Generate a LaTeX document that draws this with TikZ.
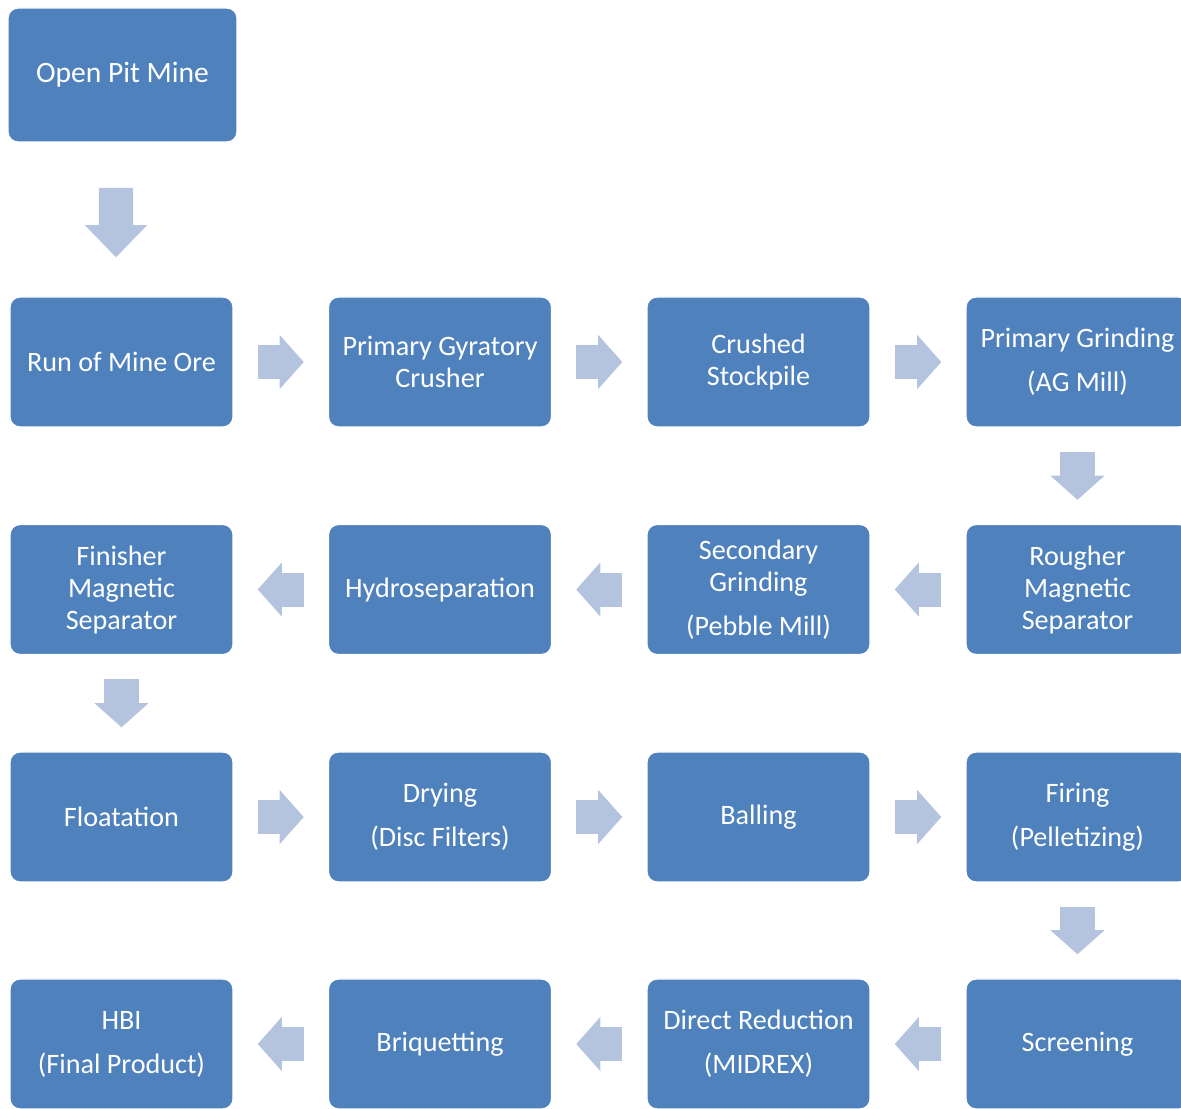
\documentclass[tikz,border=0pt]{standalone}
\usepackage{fontspec}
\setmainfont{Carlito}
\usepackage{tikz}
\usetikzlibrary{arrows.meta}
\definecolor{boxblue}{HTML}{4F81BD}
\definecolor{arrowblue}{HTML}{B4C3DE}

\begin{document}
\begin{tikzpicture}[x=0.01cm, y=-0.01cm,
    stage/.style={rectangle, rounded corners=0.1cm, fill=boxblue, draw=white, line width=0.4pt,
      minimum width=2.23cm, minimum height=1.30cm, text=white, align=center,
      font=\fontsize{8}{9.1}\selectfont},
    flow/.style={draw=arrowblue, line width=0.34cm, shorten <=0.24cm, shorten >=0.24cm,
      -{Triangle[length=0.24cm, width=0.54cm, line width=0pt]}},
    bigflow/.style={flow, line width=0.34cm, shorten <=0.45cm, shorten >=0.39cm,
      -{Triangle[length=0.32cm, width=0.62cm, line width=0pt]}}]
      \clip (0,0) rectangle (1181,1108);
      \node[stage, minimum width=2.29cm, minimum height=1.34cm, font=\fontsize{8.4}{9.6}\selectfont] (mine) at (122.5,75) {Open Pit Mine};
      % first row
      \node[stage] (rom) at (121.5,362) {Run of Mine Ore};
      \node[stage] (crusher) at (440,362) {Primary Gyratory\\Crusher};
      \node[stage] (stock) at (758.5,362) {Crushed\\Stockpile};
      \node[stage] (agmill) at (1077.5,362) {Primary Grinding\\[3.4pt](AG Mill)};
      % second row
      \node[stage] (rougher) at (1077.5,589.5) {Rougher\\Magnetic\\Separator};
      \node[stage] (pebble) at (758.5,589.5) {Secondary\\Grinding\\[3.4pt](Pebble Mill)};
      \node[stage] (hydro) at (440,589.5) {Hydroseparation};
      \node[stage] (finisher) at (121.5,589.5) {Finisher\\Magnetic\\Separator};
      % third row
      \node[stage] (float) at (121.5,817) {Floatation};
      \node[stage] (drying) at (440,817) {Drying\\[3.4pt](Disc Filters)};
      \node[stage] (balling) at (758.5,817) {Balling};
      \node[stage] (firing) at (1077.5,817) {Firing\\[3.4pt](Pelletizing)};
      % fourth row
      \node[stage] (screen) at (1077.5,1044) {Screening};
      \node[stage] (midrex) at (758.5,1044) {Direct Reduction\\[3.4pt](MIDREX)};
      \node[stage] (briq) at (440,1044) {Briquetting};
      \node[stage] (hbi) at (121.5,1044) {HBI\\[3.4pt](Final Product)};
      \draw[bigflow] ([xshift=-0.065cm]mine.south) -- ([xshift=-0.055cm]rom.north);
      \draw[flow] (rom) -- (crusher);
      \draw[flow] (crusher) -- (stock);
      \draw[flow] (stock) -- (agmill);
      \draw[flow] (agmill) -- (rougher);
      \draw[flow] (rougher) -- (pebble);
      \draw[flow] (pebble) -- (hydro);
      \draw[flow] (hydro) -- (finisher);
      \draw[flow] (finisher) -- (float);
      \draw[flow] (float) -- (drying);
      \draw[flow] (drying) -- (balling);
      \draw[flow] (balling) -- (firing);
      \draw[flow] (firing) -- (screen);
      \draw[flow] (screen) -- (midrex);
      \draw[flow] (midrex) -- (briq);
      \draw[flow] (briq) -- (hbi);
    \end{tikzpicture}
\end{document}
